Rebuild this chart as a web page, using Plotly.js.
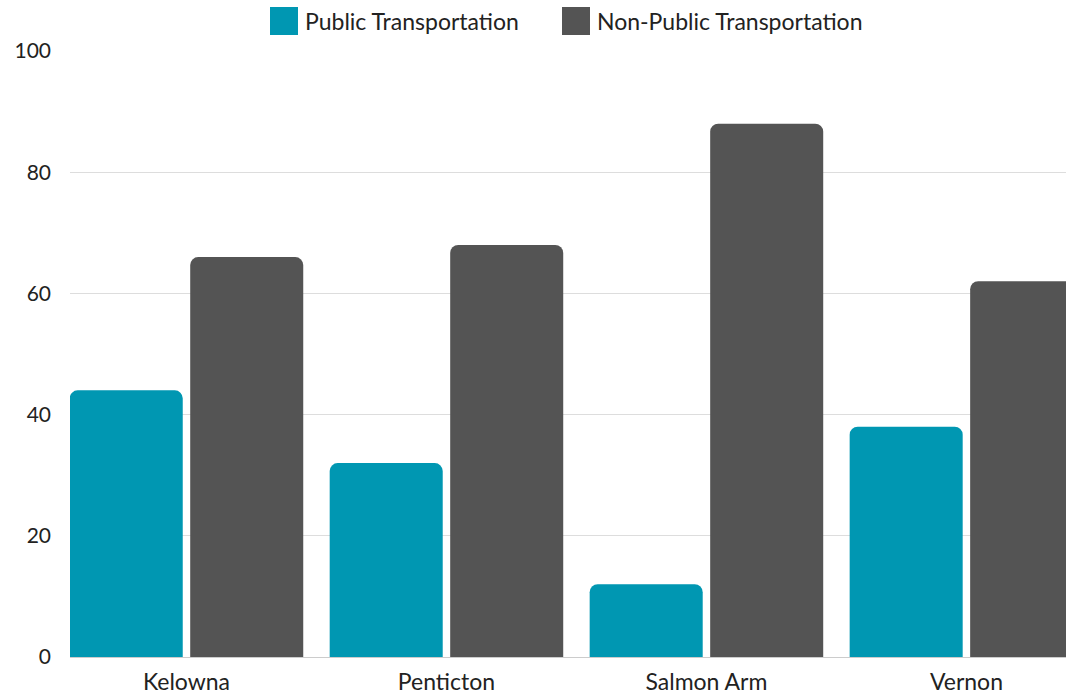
<!DOCTYPE html>
<html>
<head>
<meta charset="utf-8">
<script src="https://cdn.plot.ly/plotly-3.0.1.min.js"></script>
<style>html,body{margin:0;padding:0;background:#fff;}#chart{width:1066px;height:694px;}</style>
</head>
<body>
<div id="chart"></div>
<script>
const cities = ["Kelowna", "Penticton", "Salmon Arm", "Vernon"];
const publicTransport = [44, 32, 12, 38];
const nonPublicTransport = [66, 68, 88, 62];
const seriesNames = ["Public Transportation", "Non-Public Transportation"];
const seriesColors = ["#0097b2", "#545454"];
const yTicks = [0, 20, 40, 60, 80, 100];

const font = "Lato, 'Noto Sans', sans-serif";

const traces = [
  {type: "bar", x: cities, y: publicTransport, name: seriesNames[0],
   marker: {color: seriesColors[0], cornerradius: 8, line: {width: 0}}, showlegend: false},
  {type: "bar", x: cities, y: nonPublicTransport, name: seriesNames[1],
   marker: {color: seriesColors[1], cornerradius: 8, line: {width: 0}}, showlegend: false}
];

// custom legend (swatches + labels) in paper coordinates
const legendX = [270, 562];
const shapes = [], annotations = [];
seriesNames.forEach((n, i) => {
  shapes.push({type: "rect", xref: "paper", yref: "paper",
    x0: (legendX[i] - 70) / 996, x1: (legendX[i] + 28 - 70) / 996,
    y0: (657 - 35) / 606, y1: (657 - 7) / 606,
    fillcolor: seriesColors[i], line: {width: 0}});
  annotations.push({xref: "paper", yref: "paper", x: (legendX[i] + 33 - 70) / 996,
    y: (657 - 21) / 606, xanchor: "left", yanchor: "middle", showarrow: false,
    text: n, font: {family: font, size: 23, color: "#222"}});
});

const layout = {
  width: 1066, height: 694,
  margin: {l: 70, r: 0, t: 51, b: 37, pad: 0},
  paper_bgcolor: "#fff", plot_bgcolor: "#fff",
  barmode: "group", bargap: 0.073, bargroupgap: 0.062,
  font: {family: font, size: 20, color: "#222"},
  showlegend: false,
  xaxis: {type: "category", range: [-0.448, 3.383], showgrid: false, zeroline: false,
    showline: false, ticks: "", ticklabelstandoff: 9,
    tickfont: {family: font, size: 23, color: "#222"}},
  yaxis: {range: [0, 100], tickvals: yTicks, showgrid: true, gridcolor: "#dddddd", gridwidth: 1,
    zeroline: true, zerolinecolor: "#cccccc", zerolinewidth: 1, showline: false, ticks: "",
    ticklabelstandoff: 18, tickfont: {family: font, size: 21, color: "#222"}},
  shapes: shapes, annotations: annotations
};

Plotly.newPlot("chart", traces, layout, {displayModeBar: false, staticPlot: true});
</script>
</body>
</html>
